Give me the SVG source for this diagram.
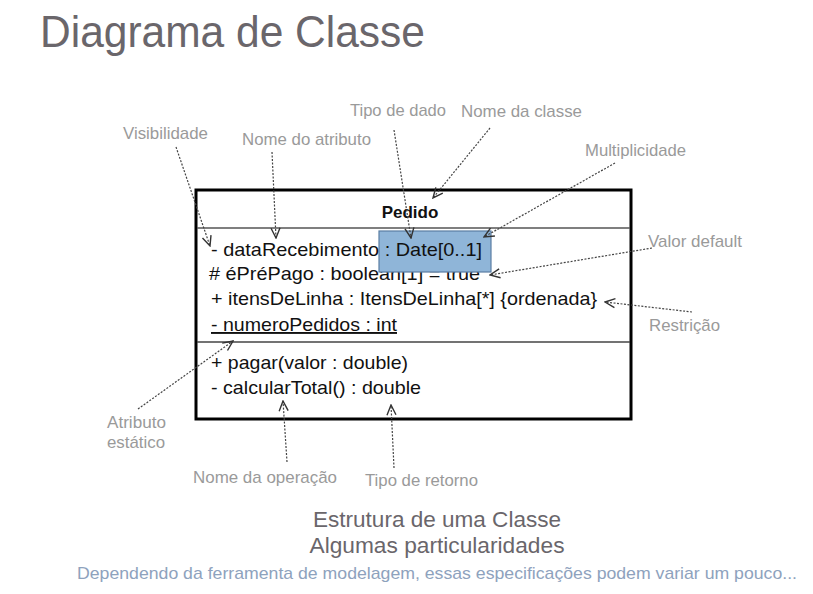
<svg xmlns="http://www.w3.org/2000/svg" width="813" height="594" viewBox="0 0 813 594">
<defs>
<marker id="arr" viewBox="0 0 12 12" refX="11" refY="6" markerWidth="12" markerHeight="12" markerUnits="userSpaceOnUse" orient="auto">
<path d="M1,1.5 L11,6 L1,10.5" fill="none" stroke="#333" stroke-width="1.4"/>
</marker>
<style>
.title{font-family:"Liberation Sans",Arial,sans-serif;font-size:45px;fill:#6a666b}
.lbl{font-family:"Liberation Sans",Arial,sans-serif;font-size:17px;fill:#9a9a9a}
.uml{font-family:"Liberation Sans",Arial,sans-serif;font-size:19px;fill:#111}
.bold{font-weight:bold;font-size:17px}
.sub{font-family:"Liberation Sans",Arial,sans-serif;font-size:22px;fill:#6a666b}
.note{font-family:"Liberation Sans",Arial,sans-serif;font-size:17px;fill:#8ea2bd}
.con{fill:none;stroke:#444;stroke-width:1.2;stroke-dasharray:2 1.5;marker-end:url(#arr)}
</style>
</defs>
<rect width="813" height="594" fill="#fff"/>
<text class="title" x="40" y="47" textLength="385" lengthAdjust="spacingAndGlyphs">Diagrama de Classe</text>

<g id="classe-pedido">
<rect x="196" y="190" width="435" height="229" fill="#fff" stroke="#000" stroke-width="3"/>
<line x1="197" y1="228" x2="630" y2="228" stroke="#555" stroke-width="1.6"/>
<line x1="197" y1="342" x2="630" y2="342" stroke="#444" stroke-width="1.6"/>
<text class="uml bold" x="410" y="218" text-anchor="middle">Pedido</text>
<text class="uml" x="209" y="280" textLength="271" lengthAdjust="spacingAndGlyphs">#&#160;éPréPago : boolean[1] = true</text>
<rect x="379" y="231" width="112" height="41" fill="#8fb5d8" stroke="#5a7ea3" stroke-width="1.2"/>
<text class="uml" x="211" y="256" textLength="271" lengthAdjust="spacingAndGlyphs">- dataRecebimento : Date[0..1]</text>
<text class="uml" x="211" y="305" textLength="386" lengthAdjust="spacingAndGlyphs">+ itensDeLinha : ItensDeLinha[*] {ordenada}</text>
<text class="uml" x="211" y="331" textLength="186" lengthAdjust="spacingAndGlyphs" text-decoration="underline">- numeroPedidos : int</text>
<text class="uml" x="211" y="369" textLength="197" lengthAdjust="spacingAndGlyphs">+ pagar(valor : double)</text>
<text class="uml" x="211" y="394" textLength="210" lengthAdjust="spacingAndGlyphs">- calcularTotal() : double</text>
</g>

<g id="labels">
<text class="lbl" x="123" y="139" textLength="85" lengthAdjust="spacingAndGlyphs">Visibilidade</text>
<text class="lbl" x="242" y="145" textLength="129" lengthAdjust="spacingAndGlyphs">Nome do atributo</text>
<text class="lbl" x="350" y="116" textLength="96" lengthAdjust="spacingAndGlyphs">Tipo de dado</text>
<text class="lbl" x="461" y="117" textLength="121" lengthAdjust="spacingAndGlyphs">Nome da classe</text>
<text class="lbl" x="585" y="156" textLength="101" lengthAdjust="spacingAndGlyphs">Multiplicidade</text>
<text class="lbl" x="648" y="247" textLength="94" lengthAdjust="spacingAndGlyphs">Valor default</text>
<text class="lbl" x="649" y="331" textLength="71" lengthAdjust="spacingAndGlyphs">Restrição</text>
<text class="lbl" x="107" y="428" textLength="59" lengthAdjust="spacingAndGlyphs">Atributo</text>
<text class="lbl" x="107" y="448" textLength="58" lengthAdjust="spacingAndGlyphs">estático</text>
<text class="lbl" x="193" y="483" textLength="144" lengthAdjust="spacingAndGlyphs">Nome da operação</text>
<text class="lbl" x="365" y="486" textLength="113" lengthAdjust="spacingAndGlyphs">Tipo de retorno</text>
</g>

<g id="connectors">
<line class="con" x1="176" y1="147" x2="210" y2="246"/>
<line class="con" x1="272" y1="152" x2="276" y2="238"/>
<line class="con" x1="394" y1="130" x2="411" y2="238"/>
<line class="con" x1="490" y1="128" x2="433" y2="198"/>
<line class="con" x1="615" y1="163" x2="484" y2="237"/>
<line class="con" x1="652" y1="248" x2="490" y2="275"/>
<line class="con" x1="692" y1="312" x2="605" y2="302"/>
<line class="con" x1="138" y1="409" x2="233" y2="341"/>
<line class="con" x1="287" y1="462" x2="283" y2="401"/>
<line class="con" x1="394" y1="468" x2="391" y2="405"/>
</g>

<text class="sub" x="437" y="527" text-anchor="middle" textLength="248" lengthAdjust="spacingAndGlyphs">Estrutura de uma Classe</text>
<text class="sub" x="437" y="553" text-anchor="middle" textLength="255" lengthAdjust="spacingAndGlyphs">Algumas particularidades</text>
<text class="note" x="437" y="579" text-anchor="middle" textLength="720" lengthAdjust="spacingAndGlyphs">Dependendo da ferramenta de modelagem, essas especificações podem variar um pouco...</text>
</svg>
